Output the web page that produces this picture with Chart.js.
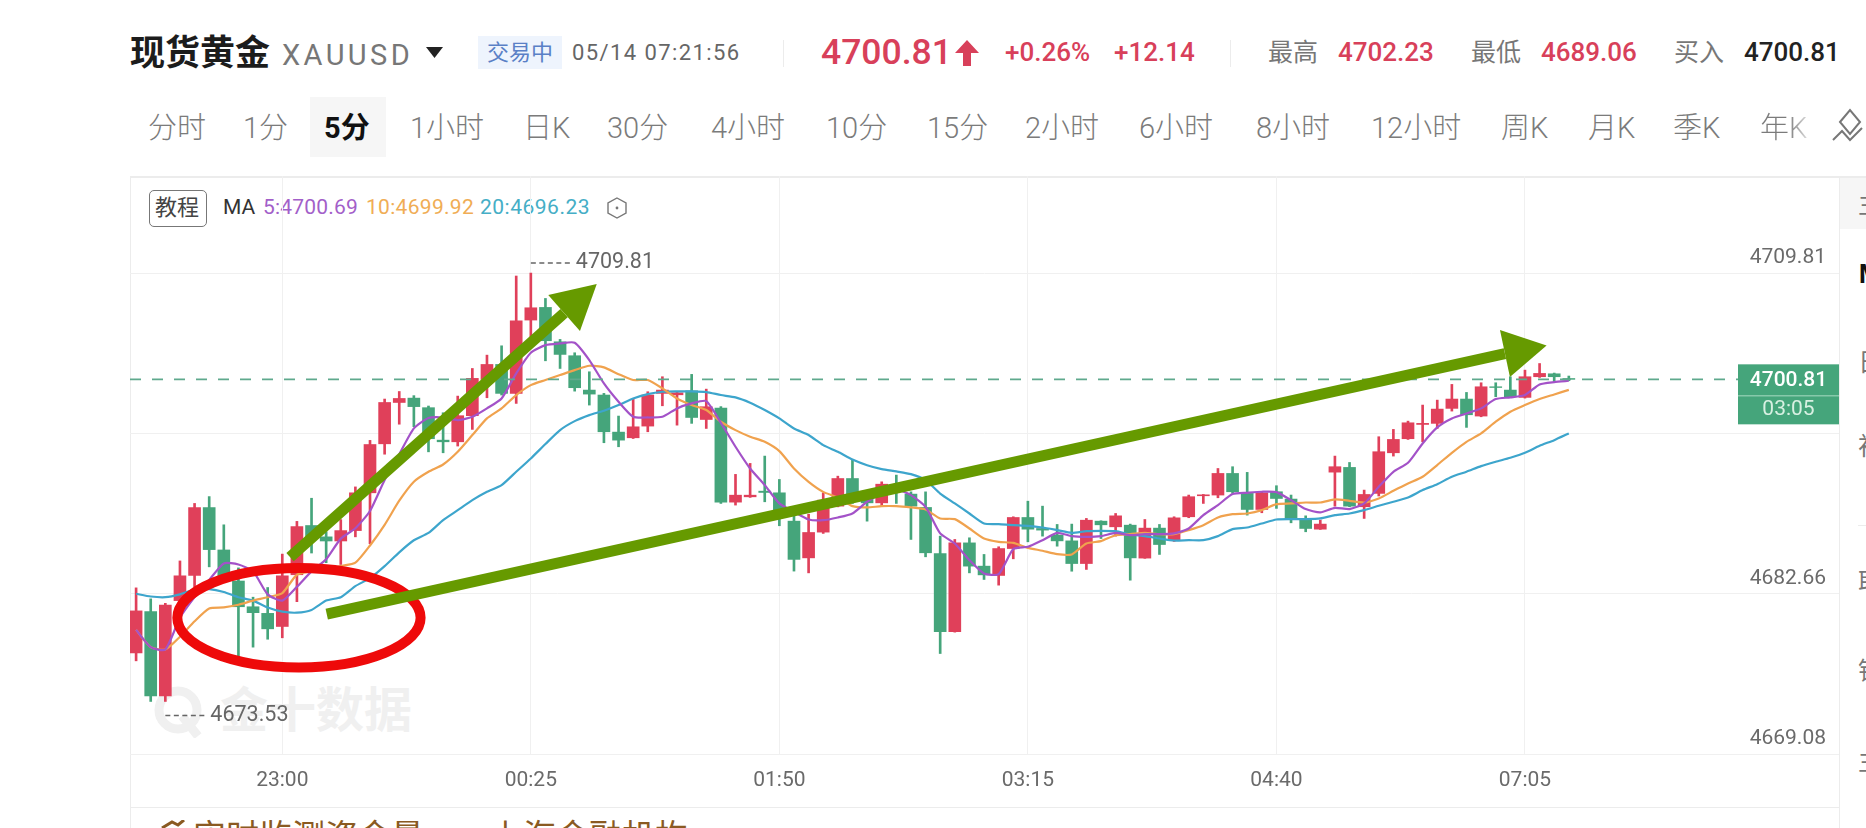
<!DOCTYPE html>
<html lang="zh">
<head>
<meta charset="utf-8">
<title>现货黄金 XAUUSD</title>
<script src="https://cdn.jsdelivr.net/npm/chart.js@4"></script>
<style>
html,body{margin:0;padding:0;background:#fff;width:1866px;height:828px;overflow:hidden;font-family:Roboto,"Noto Sans CJK SC",sans-serif}
.t{position:absolute;white-space:nowrap;transform:translateY(-50%);line-height:1.2}
.tab{top:128px;font-size:29px;color:#7b7b7b;font-weight:300}
.red{color:#d8405a}
.line{position:absolute;background:#ececec}
#c{position:absolute;left:0;top:0}
</style>
</head>
<body>
<!-- header -->
<div class="t" style="left:130px;top:54px;font-size:35px;font-weight:700;color:#1c1c1c">现货黄金</div>
<div class="t" style="left:282px;top:55px;font-size:29px;color:#777;letter-spacing:3.4px">XAUUSD</div>
<svg style="position:absolute;left:426px;top:47px" width="17" height="11"><polygon points="0,0 17,0 8.5,11" fill="#222"/></svg>
<div style="position:absolute;left:478px;top:36px;width:84px;height:33px;background:#eef4fd"></div>
<div class="t" style="left:487px;top:53px;font-size:22px;color:#5a80c6">交易中</div>
<div class="t" style="left:572px;top:53px;font-size:22px;color:#666;letter-spacing:1.4px">05/14 07:21:56</div>
<div class="line" style="left:783px;top:40px;width:1px;height:27px"></div>
<div class="t red" style="left:821px;top:52px;font-size:35.5px;font-weight:500">4700.81</div>
<svg style="position:absolute;left:955px;top:40px" width="24" height="26"><polygon points="12,0 24,13 16,13 16,26 8,26 8,13 0,13" fill="#d8405a"/></svg>
<div class="t red" style="left:1005px;top:53px;font-size:26px;font-weight:500">+0.26%</div>
<div class="t red" style="left:1114px;top:53px;font-size:26px;font-weight:500">+12.14</div>
<div class="line" style="left:1230px;top:40px;width:1px;height:27px"></div>
<div class="t" style="left:1268px;top:53px;font-size:25px;color:#777">最高</div>
<div class="t red" style="left:1338px;top:53px;font-size:26px;font-weight:500">4702.23</div>
<div class="t" style="left:1471px;top:53px;font-size:25px;color:#777">最低</div>
<div class="t red" style="left:1541px;top:53px;font-size:26px;font-weight:500">4689.06</div>
<div class="t" style="left:1674px;top:53px;font-size:25px;color:#777">买入</div>
<div class="t" style="left:1744px;top:53px;font-size:26px;font-weight:500;color:#222">4700.81</div>
<!-- tabs -->
<div style="position:absolute;left:310px;top:97px;width:76px;height:60px;background:#f6f6f6"></div>
<div class="t tab" style="left:148px">分时</div>
<div class="t tab" style="left:243px">1分</div>
<div class="t tab" style="left:324px;color:#111;font-weight:700">5分</div>
<div class="t tab" style="left:410px">1小时</div>
<div class="t tab" style="left:523px">日K</div>
<div class="t tab" style="left:607px">30分</div>
<div class="t tab" style="left:711px">4小时</div>
<div class="t tab" style="left:826px">10分</div>
<div class="t tab" style="left:927px">15分</div>
<div class="t tab" style="left:1025px">2小时</div>
<div class="t tab" style="left:1139px">6小时</div>
<div class="t tab" style="left:1256px">8小时</div>
<div class="t tab" style="left:1371px">12小时</div>
<div class="t tab" style="left:1501px">周K</div>
<div class="t tab" style="left:1588px">月K</div>
<div class="t tab" style="left:1673px">季K</div>
<div class="t tab" style="left:1760px;background:linear-gradient(90deg,#7b7b7b 60%,#d8d8d8 100%);-webkit-background-clip:text;color:transparent">年K</div>
<svg style="position:absolute;left:1830px;top:106px" width="36" height="38" fill="none" stroke="#777" stroke-width="2"><path d="M10 16 L20 4 L30 16 L20 28 Z M3 34 L12 25 L20 34 L32 22"/></svg>
<!-- panel frame -->
<div class="line" style="left:130px;top:176px;width:1736px;height:2px"></div>
<div class="line" style="left:130px;top:176px;width:1px;height:652px"></div>
<div class="line" style="left:1839px;top:176px;width:1px;height:652px"></div>
<div class="line" style="left:130px;top:754px;width:1709px;height:1px"></div>
<div class="line" style="left:130px;top:807px;width:1709px;height:1px"></div>
<div class="line" style="left:1858px;top:525px;width:8px;height:1px"></div>
<div style="position:absolute;left:1840px;top:178px;width:26px;height:51px;background:#f6f6f6"></div>
<div class="t" style="left:1858px;top:205px;font-size:25px;color:#777">主</div>
<div class="t" style="left:1859px;top:275px;font-size:25px;color:#111;font-weight:700">M</div>
<div class="t" style="left:1858px;top:363px;font-size:25px;color:#777">日</div>
<div class="t" style="left:1858px;top:447px;font-size:25px;color:#777">初</div>
<div class="t" style="left:1858px;top:583px;font-size:25px;color:#777">取</div>
<div class="t" style="left:1858px;top:672px;font-size:25px;color:#777">钱</div>
<div class="t" style="left:1858px;top:762px;font-size:25px;color:#777">主</div>
<!-- chart toolbar -->
<div style="position:absolute;left:149px;top:190px;width:56px;height:35px;border:1px solid #777;border-radius:5px;box-sizing:content-box"></div>
<div class="t" style="left:155px;top:208px;font-size:22px;color:#444">教程</div>
<div class="t" style="left:223px;top:208px;font-size:21px;color:#333">MA</div>
<div class="t" style="left:263px;top:208px;font-size:21px;letter-spacing:.2px;color:#a35fc9">5:4700.69</div>
<div class="t" style="left:366px;top:208px;font-size:21px;letter-spacing:.3px;color:#f0ad55">10:4699.92</div>
<div class="t" style="left:480px;top:208px;font-size:21px;letter-spacing:.5px;color:#45aec6">20:4696.23</div>
<svg style="position:absolute;left:606px;top:196px" width="22" height="24" fill="none" stroke="#777" stroke-width="1.4"><polygon points="11,2 20,7 20,17 11,22 2,17 2,7"/><circle cx="11" cy="12" r="1.4" fill="#777" stroke="none"/></svg>
<!-- watermark -->
<svg style="position:absolute;left:152px;top:686px" width="56" height="52" fill="none" stroke="#f0f0f0" stroke-width="9"><circle cx="26" cy="24" r="19"/><path d="M30 30 L46 50"/></svg>
<div class="t" style="left:220px;top:711px;font-size:48px;font-weight:700;color:#f0f0f0">金十数据</div>
<!-- bottom strip -->
<svg style="position:absolute;left:160px;top:820px" width="26" height="8"><path d="M2 8 L12 2 L18 5 L24 0" stroke="#8a5a22" stroke-width="3" fill="none"/></svg>
<div style="position:absolute;left:193px;top:820px;font-size:33px;line-height:33px;color:#8a5a22;white-space:nowrap">实时监测资金量　，上海金融机构</div>

<canvas id="c" width="1866" height="828"></canvas>
<script>
const xTickIndex = [10, 27, 44, 61, 78, 95];
const xTickLabels = ['23:00', '00:25', '01:50', '03:15', '04:40', '07:05'];
const yTickValues = [4709.81, 4696.23, 4682.66, 4669.08];
const lastPrice = 4700.81;
const countdown = '03:05';
const highMark = {index: 27, value: 4709.81};
const lowMark = {index: 2, value: 4673.53};

const open = [4677.64,4681.14,4673.99,4682.07,4684.20,4689.95,4686.36,4683.73,4681.55,4680.99,
4679.88,4684.26,4688.43,4687.47,4687.12,4688.00,4691.20,4695.35,4698.85,4699.22,
4698.41,4695.66,4695.52,4697.73,4700.80,4702.07,4699.62,4705.83,4706.90,4703.99,
4702.81,4699.90,4699.48,4696.34,4695.86,4696.85,4699.62,4699.50,4699.84,4697.41,
4698.37,4690.41,4690.86,4691.34,4691.20,4688.80,4685.69,4687.87,4690.07,4692.41,
4690.86,4690.35,4691.57,4691.09,4689.96,4686.06,4679.43,4686.96,4684.99,4684.20,
4686.48,4689.11,4688.18,4687.61,4687.13,4685.21,4688.80,4688.32,4688.46,4685.67,
4688.21,4687.19,4689.17,4690.95,4691.01,4692.84,4691.15,4689.79,4691.29,4690.67,
4688.94,4688.12,4692.95,4693.35,4690.02,4691.15,4694.59,4695.78,4696.99,4697.08,
4698.35,4699.14,4697.70,4700.18,4699.90,4699.28,4701.03,4701.28,4700.88];
const high = [4683.15,4682.22,4681.84,4685.43,4690.30,4690.88,4688.49,4684.84,4682.36,4683.18,
4686.01,4688.78,4690.74,4687.90,4688.93,4691.70,4695.64,4699.14,4699.78,4699.43,
4698.55,4697.98,4699.39,4701.73,4702.86,4703.65,4709.56,4709.81,4707.66,4704.19,
4703.06,4701.45,4699.62,4697.70,4699.19,4699.76,4701.03,4699.73,4701.23,4699.98,
4698.50,4692.76,4693.69,4694.31,4692.33,4689.31,4689.39,4691.20,4692.61,4693.97,
4691.00,4692.13,4692.70,4691.28,4691.28,4687.53,4687.25,4687.39,4685.98,4686.63,
4689.17,4690.49,4690.07,4688.52,4688.55,4689.03,4688.83,4689.45,4688.55,4688.94,
4688.52,4689.17,4691.01,4691.06,4693.26,4693.41,4692.93,4691.29,4691.80,4691.01,
4689.25,4688.89,4694.31,4693.77,4691.43,4695.95,4696.57,4697.27,4698.63,4699.05,
4700.38,4699.70,4700.52,4700.52,4701.03,4701.59,4702.15,4701.34,4701.09];
const low = [4676.97,4673.53,4673.53,4681.72,4683.24,4684.93,4683.82,4677.26,4678.13,4678.80,
4678.92,4681.98,4686.10,4685.28,4685.13,4687.47,4686.89,4694.47,4697.01,4696.80,
4694.67,4694.59,4695.16,4696.57,4699.25,4699.48,4698.77,4704.42,4702.38,4701.73,
4699.81,4698.63,4695.44,4695.10,4695.80,4696.37,4698.57,4696.93,4697.08,4696.65,
4690.30,4690.16,4690.81,4690.44,4688.41,4684.57,4684.42,4687.76,4690.01,4690.30,
4688.80,4690.07,4690.30,4687.25,4685.78,4677.59,4679.40,4684.42,4683.86,4683.38,
4685.61,4687.05,4687.53,4686.68,4684.56,4684.71,4687.33,4687.53,4683.80,4685.65,
4685.98,4687.08,4689.09,4690.30,4690.78,4691.15,4689.31,4689.51,4689.88,4688.66,
4687.90,4688.10,4690.07,4690.02,4689.03,4690.93,4694.31,4695.72,4695.52,4696.65,
4698.12,4696.74,4697.64,4699.34,4699.28,4699.22,4700.97,4700.61,4700.69];
const close = [4681.20,4673.99,4681.69,4684.17,4689.95,4686.39,4684.11,4681.55,4681.05,4679.68,
4684.17,4688.34,4687.47,4687.12,4688.00,4691.20,4695.29,4698.85,4699.19,4698.50,
4695.78,4695.52,4697.73,4700.89,4702.07,4699.62,4705.77,4706.87,4704.08,4702.92,
4700.10,4699.56,4696.37,4695.66,4696.79,4699.48,4699.90,4699.67,4697.58,4698.49,
4690.41,4691.00,4691.00,4691.23,4689.59,4685.56,4687.84,4690.58,4692.41,4690.58,
4690.35,4691.93,4691.43,4690.07,4686.12,4679.43,4686.96,4684.99,4684.25,4686.48,
4689.11,4688.12,4688.04,4687.13,4685.21,4688.88,4688.49,4689.25,4685.69,4688.21,
4686.82,4689.08,4690.87,4691.03,4692.84,4691.29,4689.79,4691.20,4690.72,4688.94,
4688.18,4688.55,4693.41,4690.07,4691.06,4694.68,4695.72,4697.13,4697.08,4698.29,
4699.14,4697.81,4700.18,4700.12,4699.34,4701.03,4701.31,4701.03,4700.81];
const ma5 = [4679.59,4678.13,4677.93,4680.61,4682.36,4683.82,4685.22,4685.13,4684.55,4682.60,
4682.07,4683.24,4684.55,4685.57,4687.32,4688.20,4689.66,4692.28,4694.47,4696.66,
4697.53,4697.58,4697.36,4697.64,4698.35,4699.19,4701.31,4703.06,4703.71,4703.85,
4703.91,4702.44,4700.46,4698.91,4697.64,4697.58,4697.64,4698.35,4698.77,4698.97,
4697.13,4695.10,4693.26,4691.85,4690.30,4689.59,4688.94,4688.88,4689.11,4689.45,
4690.44,4691.14,4691.48,4691.00,4690.01,4687.76,4686.91,4685.50,4684.37,4684.31,
4686.43,4686.63,4687.19,4687.81,4687.53,4687.47,4687.53,4687.81,4687.61,4687.70,
4687.70,4687.76,4688.18,4689.31,4690.16,4691.09,4691.20,4691.29,4691.26,4690.58,
4689.82,4689.54,4689.93,4689.82,4690.30,4691.71,4692.98,4693.74,4695.38,4696.74,
4697.50,4697.92,4698.35,4699.14,4699.28,4699.48,4700.38,4700.58,4700.69];
const ma10 = [4679.59,4678.13,4677.93,4679.01,4680.32,4681.40,4681.49,4681.72,4682.07,4682.36,
4682.71,4684.26,4684.55,4684.70,4684.99,4685.28,4686.74,4688.49,4690.53,4692.14,
4692.98,4693.60,4694.68,4696.09,4697.50,4698.35,4699.48,4700.32,4700.75,4701.17,
4701.59,4701.96,4701.82,4701.25,4700.75,4700.75,4700.04,4699.19,4698.63,4698.21,
4697.22,4696.51,4695.95,4695.52,4694.73,4693.26,4692.13,4691.28,4690.80,4690.07,
4689.96,4690.07,4690.07,4689.96,4689.79,4689.03,4688.97,4688.18,4687.33,4687.05,
4686.96,4686.54,4686.29,4686.00,4685.98,4686.91,4687.11,4687.61,4687.70,4687.81,
4687.70,4687.70,4688.04,4688.46,4689.11,4689.39,4689.45,4689.73,4690.24,4690.30,
4690.38,4690.38,4690.64,4690.52,4690.38,4690.72,4691.37,4691.99,4692.56,4693.55,
4694.59,4695.52,4696.23,4697.22,4698.07,4698.63,4699.14,4699.53,4699.92];
const ma20 = [4682.65,4682.42,4682.36,4682.60,4683.01,4683.04,4682.80,4682.36,4682.07,4681.49,
4681.14,4681.05,4681.28,4682.07,4682.36,4683.30,4683.97,4684.99,4686.16,4687.18,
4687.80,4688.89,4689.73,4690.58,4691.29,4691.85,4692.98,4694.11,4695.33,4696.51,
4697.27,4697.78,4698.15,4698.63,4699.19,4699.56,4699.76,4699.79,4699.79,4699.73,
4699.48,4699.28,4698.83,4698.21,4697.50,4696.65,4696.09,4695.24,4694.67,4694.02,
4693.54,4693.21,4693.01,4692.78,4692.27,4691.14,4690.30,4689.45,4688.60,4688.55,
4688.46,4688.40,4688.26,4688.04,4687.81,4687.95,4687.98,4687.95,4687.67,4687.53,
4687.33,4687.16,4687.19,4687.19,4687.53,4688.12,4688.26,4688.60,4688.94,4688.97,
4688.97,4689.03,4689.31,4689.45,4689.73,4690.10,4690.44,4690.80,4691.43,4691.93,
4692.56,4692.98,4693.46,4693.83,4694.17,4694.59,4695.18,4695.66,4696.23];

// hand-drawn annotations, anchored in data space: [candle index, price]
const shortArrow = {from:[10.53,4685.75], tip:[31.51,4708.88], wingA:[28.19,4707.95], wingB:[30.36,4704.90]};
const longArrow  = {from:[13.04,4680.92], tip:[96.48,4703.68], wingA:[93.29,4704.98], wingB:[93.97,4701.00]};
const ring = {center:[11.14,4680.62], rx:8.32, ry:4.21};

const UP = '#e0405a', DOWN = '#45a57b';
const colours = close.map((c,i) => c >= open[i] ? UP : DOWN);
const idx = close.map((_,i) => i);
const FONT = 'Roboto, "Noto Sans CJK SC", sans-serif';
const xMin = -0.417, xMax = 116.48, yMin = 4669.08, yMax = 4718.03;

const annotations = {
  id:'annotations',
  afterDraw(chart){
    const {ctx, scales:{x,y}} = chart;
    const p = a => [x.getPixelForValue(a[0]), y.getPixelForValue(a[1])];
    ctx.save();
    // min / max markers
    const mark = (m, dy) => {
      const px = x.getPixelForValue(m.index), py = y.getPixelForValue(m.value)+dy;
      ctx.strokeStyle='#666'; ctx.lineWidth=1.5; ctx.setLineDash([5,3.5]);
      ctx.beginPath(); ctx.moveTo(px,py); ctx.lineTo(px+40,py); ctx.stroke(); ctx.setLineDash([]);
      ctx.fillStyle='#666'; ctx.font='21.5px '+FONT; ctx.textAlign='left'; ctx.textBaseline='middle';
      ctx.fillText(m.value.toFixed(2), px+45, py);
    };
    mark(highMark,-10); mark(lowMark,14);
    // price tag
    const ty = y.getPixelForValue(lastPrice);
    ctx.fillStyle='#45a57b'; ctx.fillRect(1738,ty-15,101,60);
    ctx.fillStyle='#a8dcc2'; ctx.fillRect(1738,ty+16,101,1);
    ctx.textAlign='center'; ctx.textBaseline='middle'; ctx.font='500 21px '+FONT;
    ctx.fillStyle='#fff'; ctx.fillText(lastPrice.toFixed(2),1788.5,ty+1);
    ctx.font='21px '+FONT; ctx.fillStyle='#d8f0e2'; ctx.fillText(countdown,1788.5,ty+30);
    // ellipse
    const c = p(ring.center);
    const rx = Math.abs(x.getPixelForValue(ring.center[0]+ring.rx)-c[0]);
    const ry = Math.abs(y.getPixelForValue(ring.center[1]+ring.ry)-c[1]);
    ctx.strokeStyle='#ee0a0a'; ctx.lineWidth=10;
    ctx.beginPath(); ctx.ellipse(c[0],c[1],rx,ry,0,0,Math.PI*2); ctx.stroke();
    // arrows
    for (const a of [shortArrow,longArrow]){
      const f=p(a.from), t=p(a.tip), wa=p(a.wingA), wb=p(a.wingB);
      ctx.strokeStyle='#669a00'; ctx.lineWidth=11; ctx.lineCap='butt';
      ctx.beginPath(); ctx.moveTo(f[0],f[1]); ctx.lineTo((wa[0]+wb[0])/2,(wa[1]+wb[1])/2); ctx.stroke();
      ctx.fillStyle='#669a00';
      ctx.beginPath(); ctx.moveTo(t[0],t[1]); ctx.lineTo(wa[0],wa[1]); ctx.lineTo(wb[0],wb[1]); ctx.closePath(); ctx.fill();
    }
    ctx.restore();
  }
};

new Chart(document.getElementById('c'), {
  data:{
    datasets:[
      {type:'line',label:'现价',data:[{x:xMin,y:lastPrice},{x:xMax,y:lastPrice}],borderColor:'#5fa98d',borderWidth:1.8,borderDash:[11,11],pointRadius:0,order:0},
      {type:'line',label:'MA5',data:idx.map(i=>({x:i,y:ma5[i]})),borderColor:'#a352c8',borderWidth:2.2,pointRadius:0,tension:.2,order:1},
      {type:'line',label:'MA10',data:idx.map(i=>({x:i,y:ma10[i]})),borderColor:'#f0a24e',borderWidth:2.2,pointRadius:0,tension:.2,order:2},
      {type:'line',label:'MA20',data:idx.map(i=>({x:i,y:ma20[i]})),borderColor:'#3da5cc',borderWidth:2.2,pointRadius:0,tension:.2,order:3},
      {type:'bar',label:'实体',data:idx.map(i=>({x:i,y:[open[i],close[i]]})),backgroundColor:colours,barThickness:12,grouped:false,order:4},
      {type:'bar',label:'影线',data:idx.map(i=>({x:i,y:[low[i],high[i]]})),backgroundColor:colours,barThickness:2,grouped:false,order:5}
    ]
  },
  options:{
    responsive:false,animation:false,
    layout:{padding:{left:130,right:27,top:176,bottom:34}},
    plugins:{legend:{display:false},tooltip:{enabled:false},title:{display:false}},
    scales:{
      x:{type:'linear',min:xMin,max:xMax,offset:false,
        grid:{color:'#f0f0f0',offset:false,drawTicks:false},border:{display:false},
        afterBuildTicks:s=>{s.ticks=xTickIndex.map(v=>({value:v}))},
        afterFit:s=>{s.height=40},
        ticks:{autoSkip:false,maxRotation:0,padding:14,color:'#6a6a6a',font:{size:21,family:FONT},
          callback:v=>xTickLabels[xTickIndex.indexOf(v)]}},
      y:{type:'linear',position:'right',min:yMin,max:yMax,
        grid:{color:'#f0f0f0',drawTicks:false},border:{display:false},
        afterBuildTicks:s=>{s.ticks=yTickValues.map(v=>({value:v}))},
        afterFit:s=>{s.width=0},
        ticks:{mirror:true,padding:-13,labelOffset:-15,color:'#6a6a6a',font:{size:21,family:FONT},
          callback:v=>v.toFixed(2)}}
    }
  },
  plugins:[annotations]
});
</script>
</body>
</html>
